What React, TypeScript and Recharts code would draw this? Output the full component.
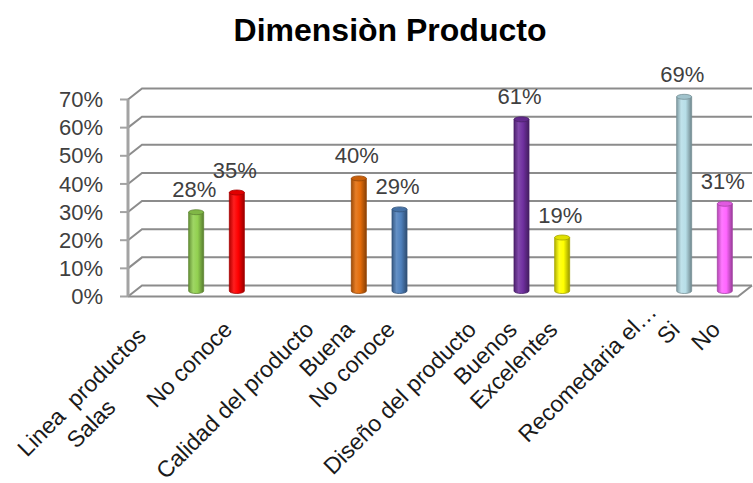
import { BarChart, Bar, XAxis, YAxis, CartesianGrid, Cell, LabelList } from "recharts";

// one slot per row of the sheet; header rows and spacer rows carry no value
const slots = [0, 1, 2, 3, 4, 5, 6, 7, 8, 9, 10, 11, 12, 13, 14];
const tickLabels = [
  "Linea  productos\nSalas",
  "",
  "No conoce",
  "",
  "Calidad del producto",
  "Buena",
  "No conoce",
  "",
  "Diseño del producto",
  "Buenos",
  "Excelentes",
  "",
  "Recomedaria el…",
  "Si",
  "No",
];
const shares = [null, 28, 35, null, null, 40, 29, null, null, 61, 19, null, null, 69, 31];
const barColors = [
  "", "#92d050", "#ff0000", "", "", "#e46c0a", "#4f81bd", "",
  "", "#7030a0", "#ffff00", "", "", "#b7dee8", "#ff66ff",
];
const yTicks = [0, 10, 20, 30, 40, 50, 60, 70];

const rows = slots.map((s) => ({ slot: s, share: shares[s] }));

const W = 753;
const H = 483;
const TOP = 94;
const BOTTOM = 291;
const LEFT = 135;
const RIGHT = 745;
const DX = 7; // half depth of the 3d box
const DY = 5.5;
const FONT = "'Liberation Sans', Arial, sans-serif";
const AXIS = "#a3a3a3";
const GRID = "#8c8c8c";

function shade(hex: string, f: number) {
  const n = parseInt(hex.slice(1), 16);
  const ch = [(n >> 16) & 255, (n >> 8) & 255, n & 255].map((c) =>
    Math.round(f < 0 ? c * (1 + f) : c + (255 - c) * f)
  );
  return "#" + ch.map((c) => c.toString(16).padStart(2, "0")).join("");
}

function backWall(props: any) {
  const { x1, y1, x2, index } = props;
  const pts = `${x1 - DX},${y1 + DY} ${x1 + DX},${y1 - DY} ${x2 + DX},${y1 - DY}`;
  return <polyline key={`wall-${index}`} points={pts} fill="none" stroke={GRID} strokeWidth={2} />;
}

function PercentTick(props: any) {
  const { x, y, payload } = props;
  const fx = x - DX;
  const fy = y + DY;
  return (
    <g>
      <line x1={fx - 8} y1={fy} x2={fx} y2={fy} stroke={AXIS} strokeWidth={2} />
      {payload.value === 70 && (
        <line x1={fx} y1={fy} x2={fx} y2={fy + (BOTTOM - TOP)} stroke={AXIS} strokeWidth={3} />
      )}
      {payload.value === 0 && (
        <polyline
          points={`${fx},${fy} ${RIGHT - DX},${fy} ${RIGHT + DX},${y - DY}`}
          fill="none"
          stroke={GRID}
          strokeWidth={2}
        />
      )}
      <text x={fx - 25} y={fy} dy="0.35em" textAnchor="end" fontSize={22} fontFamily={FONT} fill="#404040">
        {payload.value}%
      </text>
    </g>
  );
}

function CategoryTick(props: any) {
  const { x, y, payload } = props;
  const label = tickLabels[payload.value];
  if (!label) return null;
  const lines = label.split("\n");
  const nudge = label.endsWith("…") ? 25 : 0;
  const wrap = lines.length > 1;
  return (
    <g transform={`translate(${x - 3},${y + 40}) rotate(-45)`}>
      {lines.map((ln, i) => (
        <text
          key={i}
          x={nudge - (wrap ? 8 + i * 72 : 0)}
          y={wrap ? 1 + i * 29 : 0}
          textAnchor="end"
          fontSize={23}
          fontFamily={FONT}
          fill="#1a1a1a"
          style={{ whiteSpace: "pre" }}
        >
          {ln}
        </text>
      ))}
    </g>
  );
}

function Cylinder(props: any) {
  const { x, y, width, height, index, fill } = props;
  if (!height || height <= 0 || !fill) return null;
  const rx = width / 2;
  const ry = 2.5;
  const id = `cyl-${index}`;
  const body = `M${x},${y} L${x},${y + height} A${rx},${ry} 0 0 0 ${x + width},${y + height} L${x + width},${y} Z`;
  return (
    <g>
      <defs>
        <linearGradient id={id} x1="0" y1="0" x2="1" y2="0">
          <stop offset="0" stopColor={shade(fill, -0.3)} />
          <stop offset="0.3" stopColor={shade(fill, 0.12)} />
          <stop offset="0.6" stopColor={fill} />
          <stop offset="1" stopColor={shade(fill, -0.4)} />
        </linearGradient>
      </defs>
      <path d={body} fill={`url(#${id})`} stroke={shade(fill, -0.35)} strokeWidth={0.8} />
      <ellipse cx={x + rx} cy={y} rx={rx} ry={ry} fill={shade(fill, -0.12)} stroke={shade(fill, -0.35)} strokeWidth={0.8} />
    </g>
  );
}

function renderShare(props: any) {
  const { x, y, width, value } = props;
  if (value == null) return null;
  return (
    <text x={x + width / 2 - 2} y={y - 15} textAnchor="middle" fontSize={22} fontFamily={FONT} fill="#404040">
      {value}%
    </text>
  );
}

export default function App() {
  return (
    <div style={{ position: "absolute", left: 0, top: 0, width: W, height: H, background: "#fff" }}>
      <div
        style={{
          position: "absolute",
          left: 0,
          top: 12,
          width: 780,
          textAlign: "center",
          fontFamily: FONT,
          fontWeight: "bold",
          fontSize: 32,
          color: "#000",
        }}
      >
        Dimensiòn Producto
      </div>
      <BarChart width={W} height={H} data={rows} margin={{ top: TOP, right: W - RIGHT, bottom: 0, left: 0 }}>
        <CartesianGrid vertical={false} horizontal={backWall} />
        <XAxis
          dataKey="slot"
          type="category"
          height={H - BOTTOM}
          interval={0}
          axisLine={false}
          tickLine={false}
          tickSize={0}
          tickMargin={0}
          tick={<CategoryTick />}
        />
        <YAxis
          type="number"
          domain={[0, 70]}
          ticks={yTicks}
          width={LEFT}
          axisLine={false}
          tickLine={false}
          tickSize={0}
          tickMargin={0}
          tick={<PercentTick />}
        />
        <Bar dataKey="share" barSize={15} shape={<Cylinder />} isAnimationActive={false}>
          {rows.map((r) => (
            <Cell key={r.slot} fill={barColors[r.slot]} />
          ))}
          <LabelList dataKey="share" content={renderShare} />
        </Bar>
      </BarChart>
    </div>
  );
}
